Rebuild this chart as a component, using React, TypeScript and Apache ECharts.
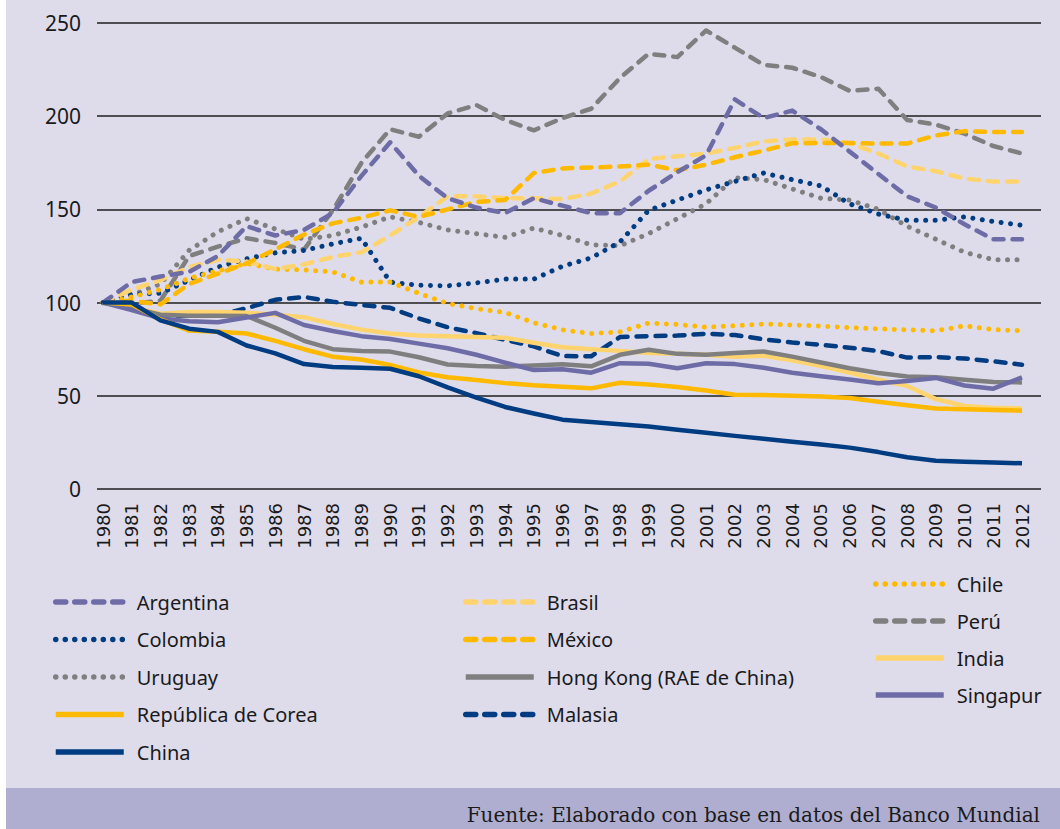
import React, { useEffect, useRef } from "react";
import * as echarts from "echarts";

const years = ["1980","1981","1982","1983","1984","1985","1986","1987","1988","1989","1990","1991","1992","1993","1994","1995","1996","1997","1998","1999","2000","2001","2002","2003","2004","2005","2006","2007","2008","2009","2010","2011","2012"];
const yTicks = [0, 50, 100, 150, 200, 250];

const argentina = [100,111,114,116.5,125,141,136,139,148,168,186,168,156,151,148,156,152,148,148,160,170,179,209,199,203,193,181,169,157,151,142,134,134];
const brasil = [100,107,112,119,123,122,118,120.5,124.5,127,136,146,157,157,156,156,155.5,158.5,165,177,178.5,180,183,186.5,187.5,187.5,185.5,180,173,170.5,166.5,165,165];
const chile = [100,103,107,113,117,121,118,117.5,116.5,111,111,105,99.5,96.8,94.7,89.2,85.4,83.4,84.3,89,88.3,86.8,87.6,88.5,88,87.4,86.6,85.9,85.4,84.9,87.5,85.5,84.9];
const colombia = [100,104.5,105,112,119,123.5,126.7,128,131.5,134.5,111,109.3,109,110.6,112.6,112.6,119.5,124,132.5,149.5,155,160.5,165,169.5,166,162.6,153,147.5,144.2,144.2,146,143.5,141.5];
const mexico = [100,101,99,110,115.5,121,128.5,136.5,142.5,145.5,149.5,146,150,154,155,169.5,172,172.5,173,174,171,174,178,181.5,185.5,185.6,185.6,185.3,185.3,189.7,192,191.5,191.5];
const peru = [100,99.5,101,125,130,134.5,132,128.5,149.5,175,193,189,201.5,206,198,192.4,199,204,220.5,233.5,231.7,246,236.8,227.6,226,221,213.6,214.7,198,195.5,190.6,184,180];
const uruguay = [100,104,110,128,138,145,139.5,134,136,140.5,146,143,139,137,135,140,136,131,130.5,137,145,153,167,166,161,156,155,150,141,134,127,123,123];
const hongKong = [100,97,93.5,93,93,92.8,86.5,79.5,75,74,73.7,70.7,66.8,66,65.6,66.3,66.9,65.8,72,74.7,72.5,72,73,73.8,71,67.9,64.8,62.2,60.4,60,58.6,57.4,57.2];
const india = [100,97.5,94,95,95,94.5,93.5,92.2,88.5,85.5,83.4,82.3,82,81.5,81.1,78.5,76,75,74.1,73,72.5,72,71,71.5,69.1,66,62.5,58.6,55.3,48.2,44.5,43.6,43.2];
const corea = [100,99,91,85,84.3,83.4,79.5,75,71,69.5,66.5,62.5,60,58.5,56.8,55.6,54.8,54,57,56,54.7,52.8,50.6,50.4,50,49.6,48.8,46.8,44.9,43.2,42.8,42.4,42];
const malasia = [100,98,93,93,93,97,101.5,103,100.5,98.7,97.2,91.5,86.8,83.6,80,76.5,71.3,71.2,81.5,82,82.3,83.3,82.6,80.3,78.6,77.4,75.8,74,70.5,70.8,70,68.5,66.7];
const singapur = [100,96,91.5,90,89.5,92,94.5,88,84.8,82,80.5,78,75.5,72,67.8,63.8,64.3,62.4,67.5,67.2,64.8,67.5,67,65,62.4,60.5,58.8,56.7,58,59.6,55.5,53.8,59.9];
const china = [100,100,90.5,86,84.3,77,72.8,67,65.5,65,64.5,60.5,54.5,49,44,40.5,37.2,36,34.8,33.5,31.8,30.2,28.5,27,25.4,23.9,22.2,19.8,17,15.2,14.6,14.2,13.8];

const legendCol1 = ["Argentina", "Colombia", "Uruguay", "República de Corea", "China"];
const legendCol2 = ["Brasil", "México", "Hong Kong (RAE de China)", "Malasia"];
const legendCol3 = ["Chile", "Perú", "India", "Singapur"];

const PURPLE = "#6e6ca6";
const NAVY = "#003c82";
const GREY = "#7f7f7f";
const AMBER = "#ffb900";
const LIGHT = "#ffd46e";

const DASH = [10, 9];
const DOT = [0.01, 9.5];

type Def = { name: string; data: number[]; color: string; kind: "solid" | "dash" | "dot" };

const defs: Def[] = [
  { name: "Perú", data: peru, color: GREY, kind: "dash" },
  { name: "Uruguay", data: uruguay, color: GREY, kind: "dot" },
  { name: "Colombia", data: colombia, color: NAVY, kind: "dot" },
  { name: "Chile", data: chile, color: AMBER, kind: "dot" },
  { name: "Brasil", data: brasil, color: LIGHT, kind: "dash" },
  { name: "México", data: mexico, color: AMBER, kind: "dash" },
  { name: "Argentina", data: argentina, color: PURPLE, kind: "dash" },
  { name: "Malasia", data: malasia, color: NAVY, kind: "dash" },
  { name: "India", data: india, color: LIGHT, kind: "solid" },
  { name: "Hong Kong (RAE de China)", data: hongKong, color: GREY, kind: "solid" },
  { name: "Singapur", data: singapur, color: PURPLE, kind: "solid" },
  { name: "República de Corea", data: corea, color: AMBER, kind: "solid" },
  { name: "China", data: china, color: NAVY, kind: "solid" },
];

export default function App() {
  const ref = useRef<HTMLDivElement>(null);
  useEffect(() => {
    if (!ref.current) return;
    const chart = echarts.init(ref.current, undefined, { renderer: "svg" });
    const legendText = {
      fontFamily: "Noto Sans",
      fontSize: 20,
      color: "#1a1a1a",
      lineHeight: 20,
      padding: [0, 0, 0, 8],
    };
    const legendBase = {
      orient: "vertical" as const,
      itemWidth: 68,
      itemHeight: 20,
      itemGap: 17.5,
      selectedMode: false,
      textStyle: legendText,
      itemStyle: { opacity: 0 },
      lineStyle: { width: 5.5 },
    };
    chart.setOption({
      animation: false,
      backgroundColor: "#ffffff",
      graphic: [
        { type: "rect", shape: { x: 6, y: 0, width: 1054, height: 788 }, style: { fill: "#dedcea" }, z: -10, silent: true },
        { type: "rect", shape: { x: 6, y: 788, width: 1054, height: 41 }, style: { fill: "#b0aed0" }, z: -10, silent: true },
        {
          type: "text",
          x: 1040,
          y: 815,
          style: {
            text: "Fuente: Elaborado con base en datos del Banco Mundial",
            textAlign: "right",
            textVerticalAlign: "middle",
            font: '20px "DejaVu Serif"',
            fill: "#1a1a1a",
          },
        },
      ],
      grid: [
        { left: 97, right: 19, top: 23, bottom: 340 },
        { left: 103, right: 38, top: 23, bottom: 340 },
      ],
      xAxis: [
        { type: "value", gridIndex: 0, show: false, min: 0, max: 1 },
        {
          type: "category",
          gridIndex: 1,
          data: years,
          boundaryGap: false,
          axisLine: { show: false },
          axisTick: { show: false },
          axisLabel: {
            rotate: 90,
            interval: 0,
            margin: 14,
            fontFamily: "DejaVu Sans",
            fontSize: 18,
            color: "#1a1a1a",
          },
          splitLine: { show: false },
        },
      ],
      yAxis: [
        {
          type: "value",
          gridIndex: 0,
          min: yTicks[0],
          max: yTicks[yTicks.length - 1],
          interval: 50,
          axisLine: { show: false },
          axisTick: { show: false },
          axisLabel: { margin: 16, fontFamily: "Noto Sans", fontSize: 21, color: "#1a1a1a" },
          splitLine: { lineStyle: { color: "#1e1e1e", width: 1.5 } },
        },
        { type: "value", gridIndex: 1, min: 0, max: 250, show: false },
      ],
      legend: [
        { ...legendBase, left: 48, top: 587, data: legendCol1 },
        { ...legendBase, left: 458, top: 587, data: legendCol2 },
        { ...legendBase, left: 868, top: 569, itemGap: 17, data: legendCol3 },
      ],
      series: defs.map((d) => ({
        name: d.name,
        type: "line",
        xAxisIndex: 1,
        yAxisIndex: 1,
        data: d.data,
        symbol: "none",
        color: d.color,
        lineStyle: {
          color: d.color,
          width: d.kind === "dot" ? 5 : 4.5,
          type: d.kind === "solid" ? "solid" : d.kind === "dash" ? DASH : DOT,
          cap: d.kind === "solid" ? "butt" : "round",
          join: "round",
        },
      })),
    });
    return () => chart.dispose();
  }, []);
  return (
    <div
      ref={ref}
      style={{ position: "fixed", left: 0, top: 0, width: 1060, height: 829 }}
    />
  );
}
